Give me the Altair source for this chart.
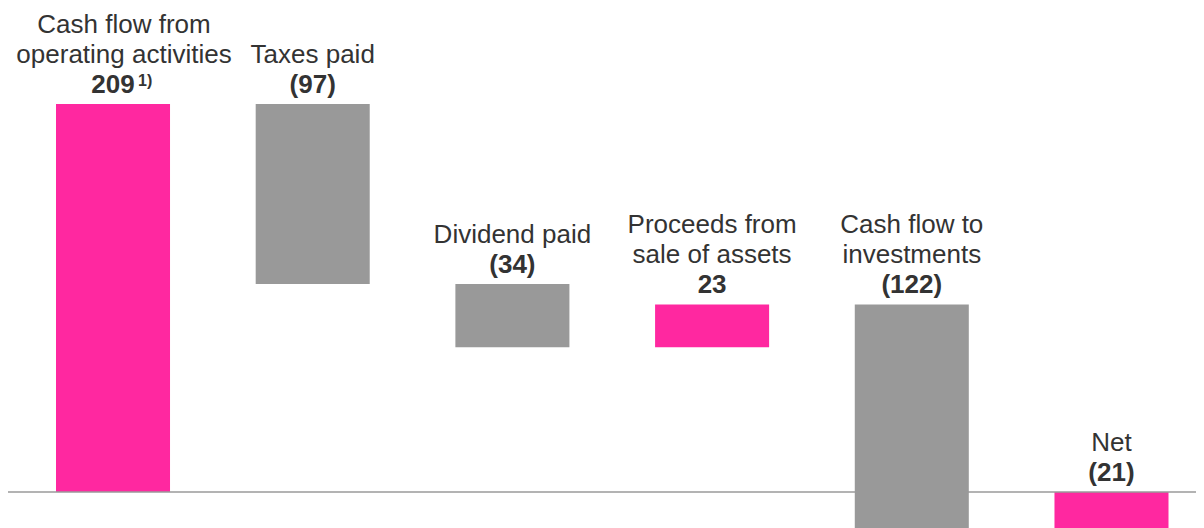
import altair as alt
import pandas as pd

# ---- data ----
steps = ["Cash flow from operating activities", "Taxes paid", "Dividend paid",
         "Proceeds from sale of assets", "Cash flow to investments", "Net"]
name_line1 = ["Cash flow from", "", "", "Proceeds from", "Cash flow to", ""]
name_line2 = ["operating activities", "Taxes paid", "Dividend paid",
              "sale of assets", "investments", "Net"]
amounts = [209, -97, -34, 23, -122, -21]
value_labels = ["209", "(97)", "(34)", "23", "(122)", "(21)"]
is_total = [False, False, False, False, False, True]
footnotes = ["1)", "", "", "", "", ""]

PINK = "#FF28A0"
GRAY = "#999999"
TEXT = "#333333"
FONT = "Liberation Sans"

rows = []
running = 0
for i, s in enumerate(steps):
    if is_total[i]:
        start, end = 0, amounts[i]
        kind = "total"
    else:
        start, end = running, running + amounts[i]
        running = end
        kind = "up" if amounts[i] > 0 else "down"
    rows.append(dict(step=s, start=start, end=end, top=max(start, end), kind=kind,
                     l1=name_line1[i], l2=name_line2[i], val=value_labels[i],
                     fn=footnotes[i], has_fn=footnotes[i] != ""))
df = pd.DataFrame(rows)

W, H = 1188, 540
xscale = alt.Scale(range=[48, 1160.5], paddingInner=0.429, paddingOuter=0)
yscale = alt.Scale(domain=[-30.16, 260.7], nice=False, zero=False)

x = alt.X("step:N", sort=steps, scale=xscale, axis=None)

base = alt.Chart(df)

bars = base.mark_bar().encode(
    x=x,
    y=alt.Y("start:Q", scale=yscale, axis=None),
    y2="end:Q",
    color=alt.Color("kind:N",
                    scale=alt.Scale(domain=["up", "down", "total"],
                                    range=[PINK, GRAY, PINK]),
                    legend=None),
)

rule = alt.Chart(pd.DataFrame({"zero": [0]})).mark_rule(
    color="#9a9a9a", strokeWidth=1.5
).encode(y=alt.Y("zero:Q", scale=yscale, axis=None))


def label(src, field, dy, bold=False, size=26, align="center", dx=0):
    return src.mark_text(
        font=FONT, fontSize=size, fontWeight="bold" if bold else "normal",
        color=TEXT, baseline="alphabetic", align=align, dy=dy, dx=dx
    ).encode(x=x, y=alt.Y("top:Q", scale=yscale, axis=None), text=f"{field}:N")


plain = base.transform_filter("!datum.has_fn")
noted = base.transform_filter("datum.has_fn")

layers = [
    bars, rule,
    label(plain, "l1", -71), label(plain, "l2", -41),
    label(noted, "l1", -71, dx=11), label(noted, "l2", -41, dx=11),
    label(base, "val", -11, bold=True),
    label(noted, "fn", -18, bold=True, size=16, align="left", dx=25),
]

chart = alt.layer(*layers).properties(
    width=W, height=H,
    autosize=alt.AutoSizeParams(type="none"),
    padding=0,
).configure_view(stroke=None)

chart.save("out.html", embed_options={"renderer": "svg", "actions": False})
